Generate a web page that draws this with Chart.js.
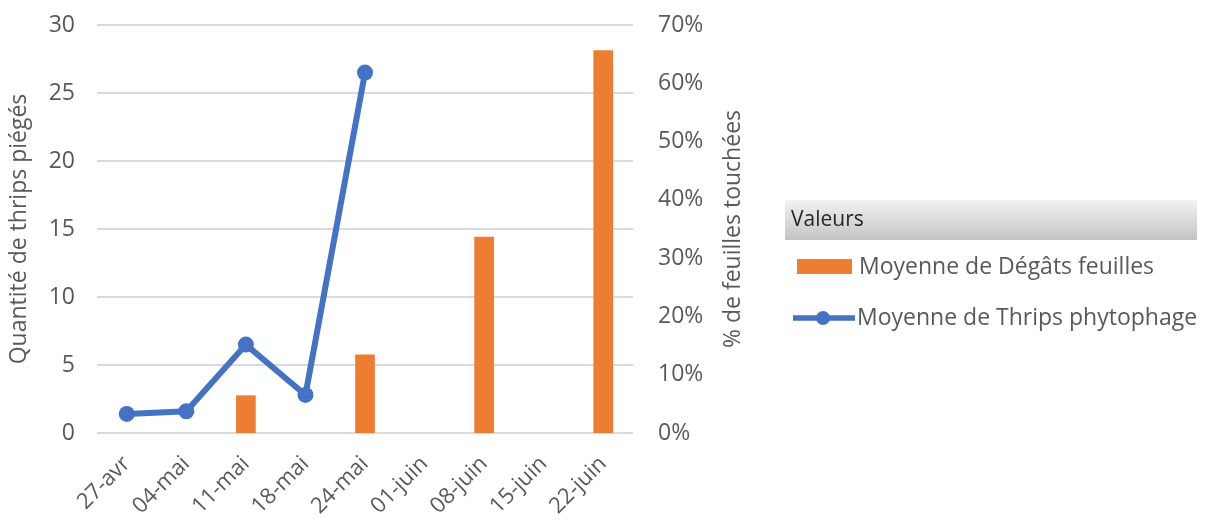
<!DOCTYPE html>
<html>
<head>
<meta charset="utf-8">
<script src="https://cdn.jsdelivr.net/npm/chart.js@4.4.0/dist/chart.umd.min.js"></script>
<style>
  html, body { margin: 0; padding: 0; background: #fff; }
  #wrap { width: 1207px; height: 527px; position: relative; }
</style>
</head>
<body>
<div id="wrap"><canvas id="graphThrips" width="1207" height="527"></canvas></div>
<script>
var dates = ['27-avr', '04-mai', '11-mai', '18-mai', '24-mai', '01-juin', '08-juin', '15-juin', '22-juin'];
var degatsFeuilles = [null, null, 6.4, null, 13.4, null, 33.6, null, 65.6];
var thripsPhytophage = [1.4, 1.6, 6.5, 2.8, 26.5, null, null, null, null];
var ticksThrips = [0, 5, 10, 15, 20, 25, 30];
var ticksDegats = [0, 10, 20, 30, 40, 50, 60, 70];

var ORANGE = '#ED7D31';
var BLUE = '#4472C4';
var GRIS = '#595959';
var FONT = "'Open Sans', sans-serif";
var TITRE_DROITE = '% de feuilles touchées';

// marges fixes des axes verticaux
function fixerAxeY(largeur) {
  return function (axis) {
    axis.width = largeur;
    axis.paddingTop = 25;
    axis.paddingBottom = 0;
  };
}

// titre de l'axe de droite (meme sens de lecture que celui de gauche)
var titreDroite = {
  id: 'titreDroite',
  afterDraw: function (chart) {
    var ctx = chart.ctx;
    var area = chart.chartArea;
    ctx.save();
    ctx.translate(733, (area.top + area.bottom) / 2);
    ctx.rotate(-Math.PI / 2);
    ctx.fillStyle = GRIS;
    ctx.font = '23px ' + FONT;
    ctx.textAlign = 'center';
    ctx.textBaseline = 'middle';
    ctx.fillText(TITRE_DROITE, 0, 0);
    ctx.restore();
  }
};

// legende "Valeurs" dessinee a droite du graphique
var legendeValeurs = {
  id: 'legendeValeurs',
  afterDraw: function (chart) {
    var ctx = chart.ctx;
    var x0 = 785, y0 = 200, w = 412, h = 40;
    ctx.save();
    var grad = ctx.createLinearGradient(0, y0, 0, y0 + h);
    grad.addColorStop(0, '#f2f2f2');
    grad.addColorStop(1, '#c4c4c4');
    ctx.fillStyle = grad;
    ctx.fillRect(x0, y0, w, h);
    ctx.fillStyle = '#262626';
    ctx.font = '21px ' + FONT;
    ctx.textBaseline = 'middle';
    ctx.fillText('Valeurs', x0 + 6, y0 + h / 2);

    var ds = chart.data.datasets;
    ctx.font = '23px ' + FONT;
    // barres
    ctx.fillStyle = ds[1].backgroundColor;
    ctx.fillRect(797, 259, 55, 15);
    ctx.fillStyle = GRIS;
    ctx.fillText(ds[1].label, 859, 267);
    // ligne
    ctx.strokeStyle = ds[0].borderColor;
    ctx.lineWidth = 5.5;
    ctx.beginPath();
    ctx.moveTo(793, 318);
    ctx.lineTo(855, 318);
    ctx.stroke();
    ctx.fillStyle = ds[0].borderColor;
    ctx.beginPath();
    ctx.arc(823, 318, 7, 0, Math.PI * 2);
    ctx.fill();
    ctx.fillStyle = GRIS;
    ctx.fillText(ds[0].label, 857, 318);
    ctx.restore();
  }
};

var ctx = document.getElementById('graphThrips');
new Chart(ctx, {
  type: 'bar',
  data: {
    labels: dates,
    datasets: [{
      type: 'line',
      label: 'Moyenne de Thrips phytophage',
      data: thripsPhytophage,
      yAxisID: 'yThrips',
      borderColor: BLUE,
      backgroundColor: BLUE,
      borderWidth: 6,
      pointRadius: 8,
      pointHoverRadius: 8,
      pointBorderWidth: 0,
      tension: 0,
      fill: false,
      order: 0
    }, {
      type: 'bar',
      label: 'Moyenne de Dégâts feuilles',
      data: degatsFeuilles,
      yAxisID: 'yDegats',
      backgroundColor: ORANGE,
      barThickness: 19,
      order: 1
    }]
  },
  options: {
    responsive: false,
    animation: false,
    layout: { padding: { left: 0, top: 0, right: 454, bottom: 0 } },
    plugins: {
      legend: { display: false },
      tooltip: { enabled: false },
      title: { display: false }
    },
    scales: {
      x: {
        grid: { display: false },
        border: { display: false },
        afterFit: function (axis) { axis.height = 94; },
        ticks: {
          color: GRIS,
          font: { family: FONT, size: 22 },
          minRotation: 45,
          maxRotation: 45,
          padding: 10
        }
      },
      yThrips: {
        position: 'left',
        min: 0,
        max: 30,
        afterBuildTicks: function (axis) {
          axis.ticks = ticksThrips.map(function (v) { return { value: v }; });
        },
        afterFit: fixerAxeY(97),
        grid: { color: '#d9d9d9', lineWidth: 2, drawTicks: false },
        border: { display: false },
        ticks: {
          color: GRIS,
          font: { family: FONT, size: 23 },
          padding: 22
        },
        title: {
          display: true,
          text: 'Quantité de thrips piégés',
          color: GRIS,
          font: { family: FONT, size: 23 },
          padding: { top: 6, bottom: 8 }
        }
      },
      yDegats: {
        position: 'right',
        min: 0,
        max: 70,
        afterBuildTicks: function (axis) {
          axis.ticks = ticksDegats.map(function (v) { return { value: v }; });
        },
        afterFit: fixerAxeY(120),
        grid: { display: false, drawTicks: false },
        border: { display: false },
        ticks: {
          color: GRIS,
          font: { family: FONT, size: 23 },
          padding: 25,
          callback: function (v) { return v + '%'; }
        }
      }
    }
  },
  plugins: [titreDroite, legendeValeurs]
});
</script>
</body>
</html>
